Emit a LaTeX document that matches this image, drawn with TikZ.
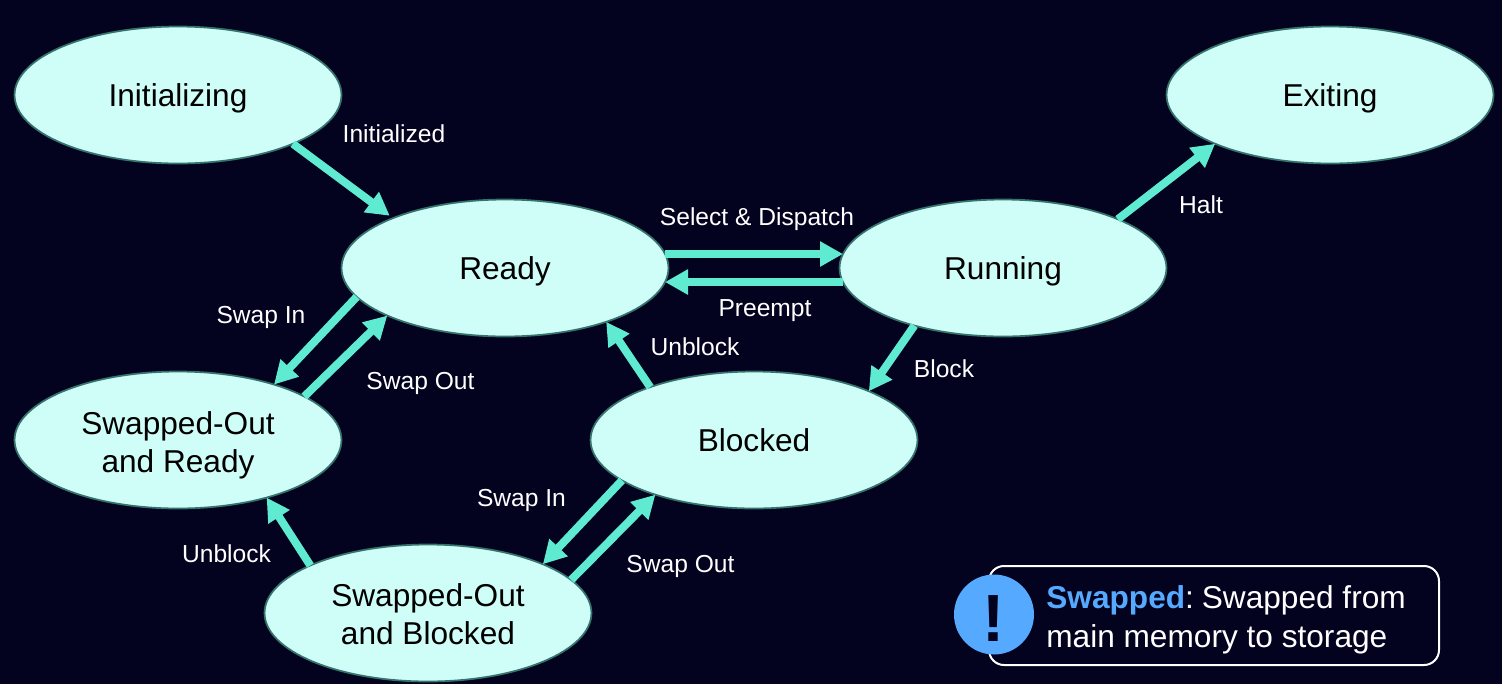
\documentclass[tikz,border=0pt]{standalone}
\usepackage{fontspec}
\setmainfont{Liberation Sans}
\usetikzlibrary{shapes.geometric, arrows.meta, positioning, calc}
\definecolor{bgdark}{HTML}{03021F}
\definecolor{statefill}{HTML}{CFFDF8}
\definecolor{stateline}{HTML}{35746C}
\definecolor{arrowteal}{HTML}{5FEBD1}
\definecolor{noteblue}{HTML}{55AAFF}

\begin{document}
\begin{tikzpicture}[
    x=0.02cm, y=-0.02cm,
    state/.style={draw=stateline, line width=0.035cm, fill=statefill, ellipse, inner sep=0pt, outer sep=0pt, minimum width=6.54cm, minimum height=2.74cm, align=center, text=black, text depth=0pt, font=\fontsize{18}{21.5}\selectfont},
    arr/.style={-{Triangle[length=0.46cm, width=0.48cm]}, line width=0.16cm, draw=arrowteal},
    lbl/.style={text=white, inner sep=0pt, text depth=0pt, font=\fontsize{14}{16}\selectfont}
]
\fill[bgdark] (0,0) rectangle (1502,684);

\node[state] (init) at (178,95) {Initializing};
\node[state] (ready) at (505,268) {Ready};
\node[state] (running) at (1003,268) {Running};
\node[state] (exiting) at (1330,95) {Exiting};
\node[state] (swapready) at (178,440) {\rule{0pt}{15.4pt}Swapped-Out\\and Ready};
\node[state] (blocked) at (754,440) {Blocked};
\node[state] (swapblocked) at (428,613) {\rule{0pt}{14.2pt}Swapped-Out\\and Blocked};

\draw[arr, shorten >=0.08cm] (init.-23.5) -- (ready.156);
\draw[arr] (ready.5) -- (running.175);
\draw[arr] (running.185) -- (ready.-5);
\draw[arr] (running.23.9) -- (exiting.203.5);
\draw[arr] (running.213.4) -- (blocked.23.3);
\draw[arr] (blocked.153) -- (ready.-28.5);
\draw[arr] (ready.191.5) -- (swapready.30.4);
\draw[arr] (swapready.19) -- (ready.202.3);
\draw[arr] (blocked.197.5) -- (swapblocked.23.7);
\draw[arr] (swapblocked.13.4) -- (blocked.209.7);
\draw[arr] (swapblocked.158.7) -- (swapready.-33.2);

\node[lbl] (linit) at (394,134) {Initialized};
\node[lbl] (lselect) at (757,217) {Select \& Dispatch};
\node[lbl] (lpreempt) at (765,308) {Preempt};
\node[lbl] (lhalt) at (1201,205) {Halt};
\node[lbl] (lblock) at (944,369) {Block};
\node[lbl] (lunblock) at (695,347) {Unblock};
\node[lbl] (lswapin) at (261,315) {Swap In};
\node[lbl] (lswapout) at (420.5,381) {Swap Out};
\node[lbl] (lswapinb) at (521.5,498) {Swap In};
\node[lbl] (lswapoutb) at (680.5,564) {Swap Out};
\node[lbl] (lunblockb) at (226.5,554) {Unblock};

% note at the bottom right
\draw[white, line width=0.04cm, rounded corners=0.3cm] (989,566) rectangle (1439,665);
\node[circle, fill=noteblue, inner sep=0pt, minimum size=1.6cm] (noteicon) at (994,614.5) {};
\node[text=bgdark, inner sep=0pt, font=\fontsize{38}{38}\selectfont\bfseries] (notemark) at (994,618.5) {!};
\node[anchor=west, text=white, inner sep=0pt, align=left, font=\fontsize{18}{22.4}\selectfont] (notetext) at (1046,619.5) {\textcolor{noteblue}{\textbf{Swapped}}\kern-0.1pt:\kern-0.4pt\ Swapped from\\main memory to storage};
\end{tikzpicture}
\end{document}
